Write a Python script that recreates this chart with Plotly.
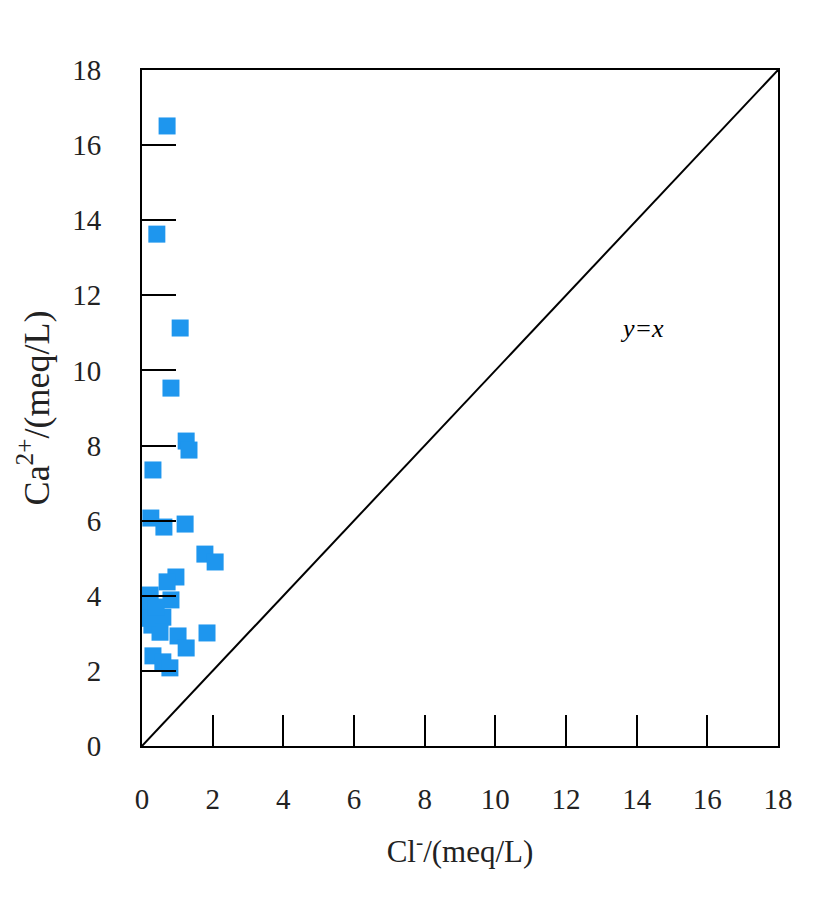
import plotly.graph_objects as go

# Cl- (x) and Ca2+ (y) in meq/L
cl = [0.71, 0.42, 1.08, 0.82, 1.25, 1.33, 0.31, 0.25, 0.62, 1.22,
      1.78, 2.07, 0.96, 0.71, 0.82, 0.23, 0.23, 0.28, 0.59, 0.51,
      1.84, 1.02, 1.25, 0.31, 0.59, 0.79, 0.15, 0.15, 0.40]
ca = [16.51, 13.63, 11.13, 9.53, 8.12, 7.88, 7.35, 6.07, 5.83, 5.91,
      5.11, 4.90, 4.50, 4.37, 3.89, 4.02, 3.62, 3.22, 3.43, 3.03,
      3.01, 2.93, 2.61, 2.40, 2.24, 2.08, 3.80, 3.40, 3.70]

line_x = [0, 18]
line_y = [0, 18]
ticks = [0, 2, 4, 6, 8, 10, 12, 14, 16, 18]

serif = "Liberation Serif, Times New Roman, serif"
tick_font = dict(family=serif, size=29, color="#222")

fig = go.Figure()
fig.add_trace(go.Scatter(x=line_x, y=line_y, mode='lines',
                         line=dict(color='black', width=2), hoverinfo='skip'))
fig.add_trace(go.Scatter(x=cl, y=ca, mode='markers',
                         marker=dict(symbol='square', size=17, color='#1E96EE',
                                     line=dict(width=0))))

fig.add_annotation(x=14.15, y=11.13, text="<i>y=x</i>", showarrow=False,
                   font=dict(family=serif, size=26, color='black'))

axis_common = dict(range=[0, 18], tickvals=ticks, showgrid=False, zeroline=False,
                   showline=True, linecolor='black', linewidth=2, mirror=True,
                   ticks='inside', tickcolor='black', tickwidth=2,
                   tickfont=tick_font)

fig.update_xaxes(**axis_common, ticklen=31, ticklabelstandoff=26,
                 title=dict(text="Cl<sup>-</sup>/(meq/L)",
                            font=dict(family=serif, size=31, color="#222"), standoff=27))
fig.update_yaxes(**axis_common, ticklen=34, ticklabelstandoff=33,
                 title=dict(text="Ca<sup>2+</sup>/(meq/L)",
                            font=dict(family=serif, size=36, color="#222"), standoff=12))

fig.update_layout(
    width=838, height=905,
    margin=dict(l=134, r=68, t=62, b=167, autoexpand=False),
    plot_bgcolor='white', paper_bgcolor='white',
    showlegend=False,
)

fig.write_html("out.html")
